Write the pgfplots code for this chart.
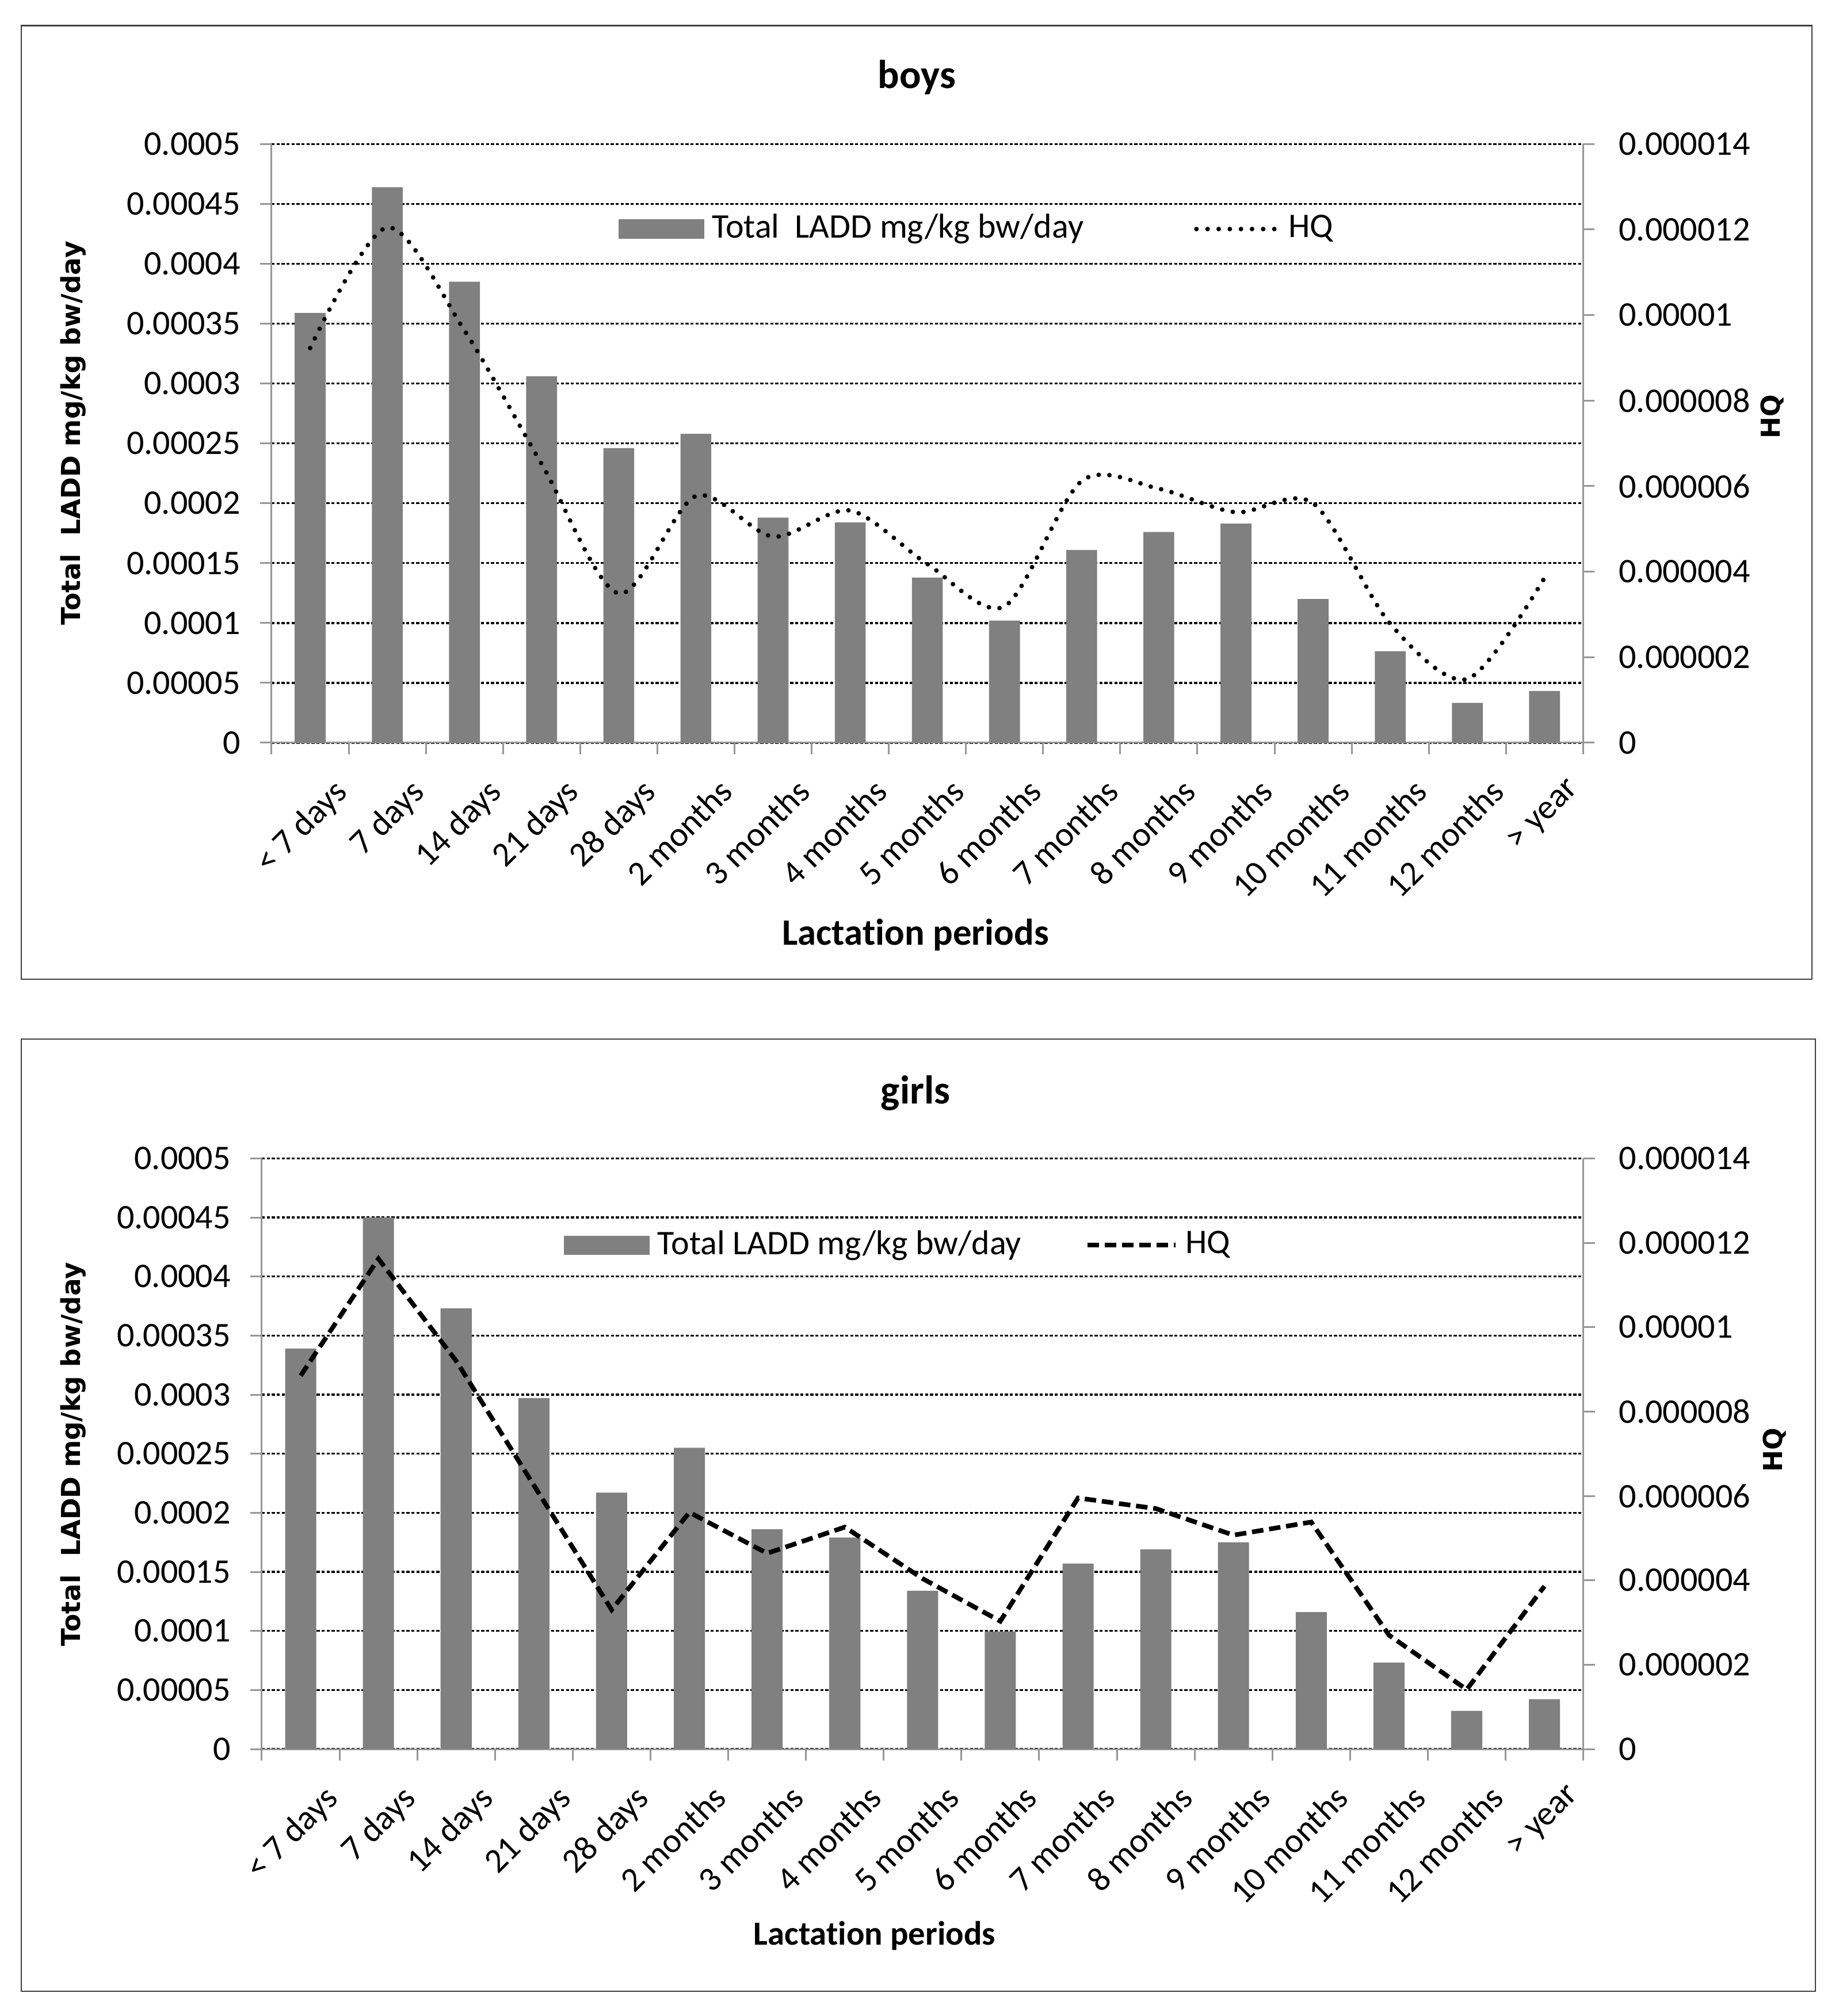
\documentclass[border=0pt]{standalone}
\usepackage{pgfplots}
\pgfplotsset{compat=1.18}
\usepackage{fontspec}
\setmainfont{Carlito}[Ligatures={NoCommon}]
\newfontfamily\dejab{DejaVu Sans}
\definecolor{barg}{RGB}{128,128,128}
\definecolor{axg}{RGB}{150,150,150}

\pgfplotsset{
  mybase/.style={
    scale only axis, xmin=-0.5, xmax=16.5,
    scaled y ticks=false, scaled x ticks=false,
    axis line style={draw=axg, line width=0.45pt, -},
    tick align=outside,
    major tick length=3pt, minor tick length=3pt,
    every tick/.style={draw=axg, line width=0.45pt},
    ticklabel style={font=\fontsize{9}{10.8}\selectfont},
  },
  leftax/.style={mybase,
    axis x line*=bottom, axis y line*=left,
    tick align=outside,
    ymin=0, ymax=0.0005,
    ytick={0,0.00005,0.0001,0.00015,0.0002,0.00025,0.0003,0.00035,0.0004,0.00045,0.0005},
    yticklabels={0,0.00005,0.0001,0.00015,0.0002,0.00025,0.0003,0.00035,0.0004,0.00045,0.0005},
    ymajorgrids,
    major grid style={draw=black, line width=0.5pt, dash pattern=on 0.8pt off 0.5pt},
    xtick={0,...,16},
    xticklabels={< 7 days,7 days,14 days,21 days,28 days,2 months,3 months,4 months,5 months,6 months,7 months,8 months,9 months,10 months,11 months,12 months,> year},
    minor xtick={-0.5,0.5,...,16.5},
    major x tick style={draw=none},
    minor x tick style={draw=axg, line width=0.45pt},
    xticklabel style={rotate=45, anchor=north east, inner sep=0pt, yshift=-8pt},
    yticklabel style={xshift=-1.6pt},
    ylabel style={font=\dejab\bfseries\fontsize{6.8}{8}\selectfont, anchor=center},
    xlabel style={anchor=center},
    every axis title shift=0pt,
    title style={anchor=center, font=\bfseries\fontsize{10.5}{12}\selectfont},
  },
  rightax/.style={mybase,
    axis x line=none, axis y line*=right,
    tick align=outside,
    ymin=0, ymax=0.000014,
    ytick={0,0.000002,0.000004,0.000006,0.000008,0.00001,0.000012,0.000014},
    yticklabels={0,0.000002,0.000004,0.000006,0.000008,0.00001,0.000012,0.000014},
    yticklabel style={xshift=2.8pt},
    ylabel style={font=\dejab\bfseries\fontsize{6.8}{8}\selectfont, anchor=center},
  },
}

\begin{document}
\begin{tikzpicture}
\path[use as bounding box] (0,0) rectangle (479.4pt,525.6pt);
\draw[black!75, line width=0.35pt] (5.5pt,270.3pt) rectangle (472.35pt,518.9pt);
\draw[black!75, line width=0.35pt] (5.55pt,6.45pt) rectangle (473.25pt,254.7pt);

% ---------------- boys ----------------
\begin{axis}[leftax, width=341.9pt, height=156.1pt, at={(70.8pt,331.95pt)}, anchor=south west,
  title={boys}, title style={at={(axis description cs:0.492,1.111)}},
  xlabel={Lactation periods}, xlabel style={at={(axis description cs:0.491,-0.321)}, font=\bfseries\fontsize{9.7}{12}\selectfont},
  ylabel={Total\ \ LADD mg/kg bw/day}, ylabel style={at={(axis description cs:-0.1513,0.517)}},
  legend style={at={(axis description cs:0.540,0.858)}, anchor=center, draw=none, fill=none,
    legend columns=2, font=\fontsize{9}{10.8}\selectfont,
    /tikz/every even column/.append style={column sep=26.8pt}},
]
\addplot[ybar, bar width=0.4, fill=barg, draw=none,
  legend image code/.code={\fill[barg] (0pt,-2.5pt) rectangle (22.3pt,2.5pt);}]
  coordinates {(0,0.000359) (1,0.000464) (2,0.000385) (3,0.000306) (4,0.000246) (5,0.000258)
   (6,0.000188) (7,0.000184) (8,0.000138) (9,0.000102) (10,0.000161) (11,0.000176)
   (12,0.000183) (13,0.000120) (14,0.0000765) (15,0.0000333) (16,0.0000432)};
\addlegendentry{Total\ \ LADD mg/kg bw/day}
\addlegendimage{legend image code/.code={\draw[black, line width=1.2pt, line cap=round, dash pattern=on 0pt off 2.9pt] (0.6pt,0pt) -- (22pt,0pt);}}
\addlegendentry{HQ}
\end{axis}
\begin{axis}[rightax, width=341.9pt, height=156.1pt, at={(70.8pt,331.95pt)}, anchor=south west,
  ylabel={HQ}, ylabel style={at={(axis description cs:1.1441,0.545)}},
]
\addplot[black, line width=1.2pt, line cap=round, dash pattern=on 0pt off 2.8pt, smooth]
  coordinates {(0,9.23e-6) (1,12.05e-6) (2,9.64e-6) (3,6.52e-6) (4,3.49e-6) (5,5.77e-6)
   (6,4.82e-6) (7,5.43e-6) (8,4.18e-6) (9,3.19e-6) (10,6.12e-6) (11,5.94e-6)
   (12,5.39e-6) (13,5.60e-6) (14,2.78e-6) (15,1.49e-6) (16,3.86e-6)};
\end{axis}

% ---------------- girls ----------------
\begin{axis}[leftax, width=344.5pt, height=154.0pt, at={(68.25pt,69.6pt)}, anchor=south west,
  title={girls}, title style={at={(axis description cs:0.4947,1.111)}},
  xlabel={Lactation periods}, xlabel style={at={(axis description cs:0.4637,-0.316)}, font=\bfseries\fontsize{8.8}{11}\selectfont},
  ylabel={Total\ \ LADD mg/kg bw/day}, ylabel style={at={(axis description cs:-0.1428,0.499)}},
  legend style={at={(axis description cs:0.4836,0.853)}, anchor=center, draw=none, fill=none,
    legend columns=2, font=\fontsize{9}{10.8}\selectfont,
    /tikz/every even column/.append style={column sep=14.6pt}},
]
\addplot[ybar, bar width=0.4, fill=barg, draw=none,
  legend image code/.code={\fill[barg] (0pt,-2.5pt) rectangle (22.4pt,2.5pt);}]
  coordinates {(0,0.000339) (1,0.000450) (2,0.000373) (3,0.000297) (4,0.000217) (5,0.000255)
   (6,0.000186) (7,0.000179) (8,0.000134) (9,0.0000995) (10,0.000157) (11,0.000169)
   (12,0.000175) (13,0.000116) (14,0.0000732) (15,0.0000323) (16,0.0000422)};
\addlegendentry{Total LADD mg/kg bw/day}
\addlegendimage{legend image code/.code={\draw[black, line width=1.2pt, dash pattern=on 3pt off 1.5pt] (0pt,0pt) -- (23pt,0pt);}}
\addlegendentry{HQ}
\end{axis}
\begin{axis}[rightax, width=344.5pt, height=154.0pt, at={(68.25pt,69.6pt)}, anchor=south west,
  ylabel={HQ}, ylabel style={at={(axis description cs:1.1448,0.506)}},
]
\addplot[black, line width=1.2pt, dash pattern=on 3pt off 1.5pt]
  coordinates {(0,8.85e-6) (1,11.62e-6) (2,9.2e-6) (3,6.25e-6) (4,3.30e-6) (5,5.61e-6)
   (6,4.64e-6) (7,5.26e-6) (8,4.04e-6) (9,3.03e-6) (10,5.95e-6) (11,5.70e-6)
   (12,5.07e-6) (13,5.38e-6) (14,2.70e-6) (15,1.41e-6) (16,3.86e-6)};
\end{axis}
\end{tikzpicture}
\end{document}
